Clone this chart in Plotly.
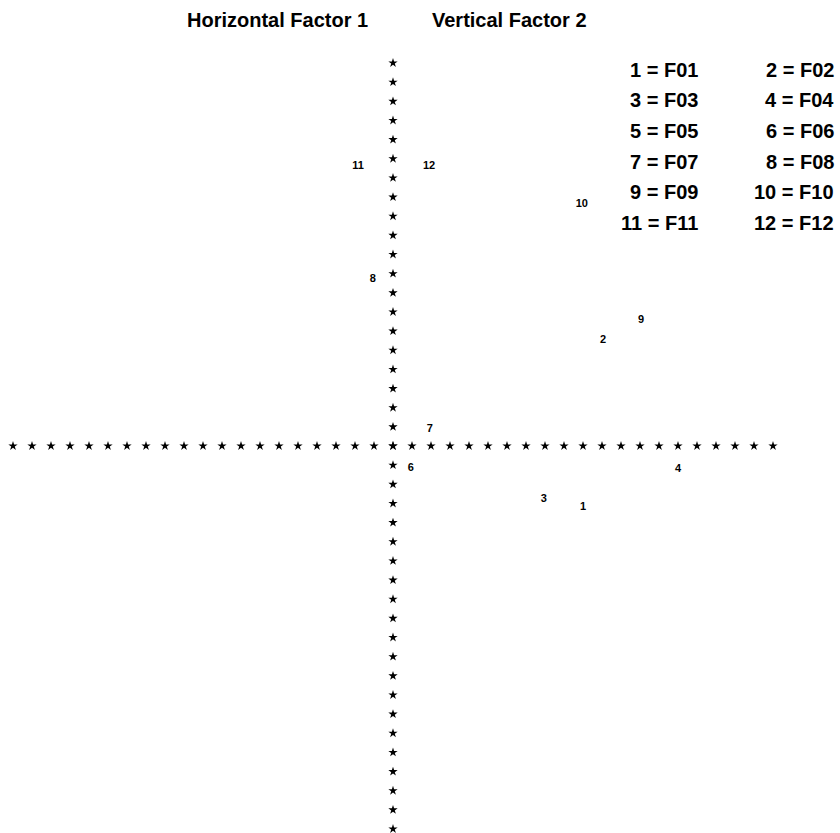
import plotly.graph_objects as go

# Factor loadings (Factor 1 horizontal, Factor 2 vertical)
point_labels = ["1", "2", "3", "4", "6", "7", "8", "9", "10", "11", "12"]
factor1 = [0.500, 0.553, 0.397, 0.750, 0.047, 0.097, -0.053, 0.653, 0.497, -0.092, 0.095]
factor2 = [-0.159, 0.277, -0.138, -0.060, -0.057, 0.044, 0.436, 0.329, 0.632, 0.731, 0.731]

legend_codes = ["1", "2", "3", "4", "5", "6", "7", "8", "9", "10", "11", "12"]
legend_names = ["F01", "F02", "F03", "F04", "F05", "F06", "F07", "F08", "F09", "F10", "F11", "F12"]

axis_ticks = [i / 20 for i in range(-20, 21)]

W, H = 840, 833
CX, CY = 393, 446
UX, UY = 380, 383

FONT = "Liberation Sans, Arial, Helvetica, sans-serif"

fig = go.Figure()

# horizontal star axis
fig.add_trace(go.Scatter(
    x=axis_ticks, y=[0] * len(axis_ticks), mode="markers",
    marker=dict(symbol="star", size=7, color="black", line=dict(width=0)),
    hoverinfo="skip", showlegend=False))
# vertical star axis
fig.add_trace(go.Scatter(
    x=[0] * len(axis_ticks), y=axis_ticks, mode="markers",
    marker=dict(symbol="star", size=7, color="black", line=dict(width=0)),
    hoverinfo="skip", showlegend=False))

# points as numeric labels
fig.add_trace(go.Scatter(
    x=factor1, y=factor2, mode="text", text=point_labels,
    textposition="middle center",
    textfont=dict(family=FONT, size=11, color="black", weight="bold"),
    showlegend=False))


def px_x(p):
    return p / W


def px_y(p):
    return 1 - p / H


annotations = [
    dict(text="Horizontal Factor 1", x=px_x(277), y=px_y(20)),
    dict(text="Vertical Factor 2", x=px_x(510), y=px_y(20)),
]
for a in annotations:
    a.update(xref="paper", yref="paper", showarrow=False, xanchor="center", yanchor="middle",
             font=dict(family=FONT, size=20, color="black", weight="bold"))

for i, (code, name) in enumerate(zip(legend_codes, legend_names)):
    row, col = divmod(i, 2)
    xr = 700 if col == 0 else 836
    yr = 70 + 30.5 * row
    annotations.append(dict(
        text=f"{code} = {name}", x=px_x(xr), y=px_y(yr), xref="paper", yref="paper",
        showarrow=False, xanchor="right", yanchor="middle",
        font=dict(family=FONT, size=20, color="black", weight="bold")))

fig.update_layout(
    width=W, height=H, autosize=False,
    margin=dict(l=0, r=0, t=0, b=0),
    paper_bgcolor="white", plot_bgcolor="white",
    xaxis=dict(range=[-CX / UX, (W - CX) / UX], visible=False, fixedrange=True),
    yaxis=dict(range=[(CY - H) / UY, CY / UY], visible=False, fixedrange=True),
    annotations=annotations,
    showlegend=False,
)

fig.write_html(
    "out.html",
    config={"displayModeBar": False},
    post_script="document.body.style.margin='0';document.body.style.overflow='hidden';",
)
